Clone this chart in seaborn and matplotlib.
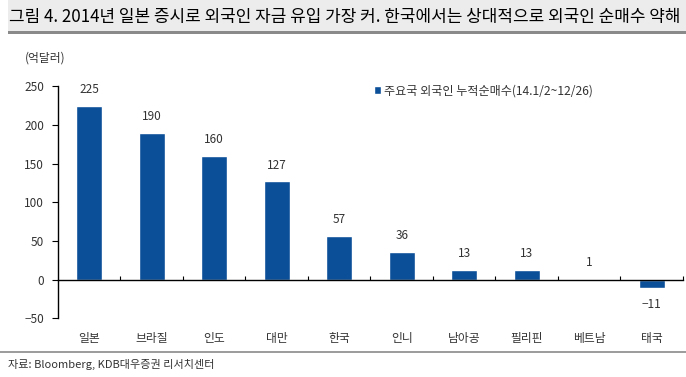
import matplotlib
matplotlib.use('Agg')
import matplotlib.pyplot as plt
import seaborn as sns
from matplotlib.patches import Rectangle
from matplotlib.lines import Line2D
from matplotlib.ticker import MultipleLocator

# data
countries = ['일본', '브라질', '인도', '대만', '한국', '인니', '남아공', '필리핀', '베트남', '태국']
net_buy = [225, 190, 160, 127, 57, 36, 13, 13, 1, -11]
series_name = '주요국 외국인 누적순매수(14.1/2~12/26)'
title = '그림 4. 2014년 일본 증시로 외국인 자금 유입 가장 커. 한국에서는 상대적으로 외국인 순매수 약해'
unit = '(억달러)'
source = '자료: Bloomberg, KDB대우증권 리서치센터'

sns.set_style('white')
plt.rcParams['font.family'] = ['Noto Sans CJK KR', 'DejaVu Sans']

bar_color = '#0B4F98'
txt_color = '#333333'

fig = plt.figure(figsize=(6.86, 3.77), dpi=100)
ax = fig.add_axes([0.0845, 0.1557, 0.9111, 0.6153])

sns.barplot(x=countries, y=net_buy, color=bar_color, saturation=1, width=0.42,
            ax=ax, label=series_name)

ax.set_ylim(-50, 250)
ax.set_xlim(-0.5, len(countries) - 0.5)
ax.yaxis.set_major_locator(MultipleLocator(50))
ax.set_xlabel('')
ax.set_ylabel('')

# axes styling: bottom spine at zero
for s in ['top', 'right']:
    ax.spines[s].set_visible(False)
ax.spines['bottom'].set_position(('data', 0))
for s in ['left', 'bottom']:
    ax.spines[s].set_color('black')
    ax.spines[s].set_linewidth(1.0)

ax.tick_params(axis='y', direction='out', length=4, width=0.8, color='black',
               labelsize=8.5, labelcolor=txt_color, pad=6, left=True)
ax.tick_params(axis='x', which='major', length=0, labelsize=8.5,
               labelcolor=txt_color, pad=38)
ax.set_xticks([i + 0.5 for i in range(len(countries))], minor=True)
ax.tick_params(axis='x', which='minor', direction='in', length=3, width=0.8,
               color='black', bottom=True)

labels = [str(v).replace('-', '\u2212') for v in net_buy]
ax.bar_label(ax.containers[0], labels=labels, padding=7, fontsize=8.5, color=txt_color)

leg = ax.legend(loc='upper left', bbox_to_anchor=(0.498, 1.03), frameon=False,
                fontsize=8.7, handlelength=0.6, handleheight=0.6, handletextpad=0.2,
                borderaxespad=0)
for t in leg.get_texts():
    t.set_color(txt_color)

# header band
fig.patches.append(Rectangle((8 / 686, 1 - 31 / 377), 1 - 8 / 686, 31 / 377,
                             transform=fig.transFigure, facecolor='#ececec',
                             edgecolor='none', zorder=0))
fig.patches.append(Rectangle((8 / 686, 1 - 34 / 377), 1 - 8 / 686, 3 / 377,
                             transform=fig.transFigure, facecolor='#8a8a8a',
                             edgecolor='none', zorder=0))
fig.text(9 / 686, 1 - 17 / 377, title, fontsize=12.2, color='black', va='center', ha='left')

fig.text(25 / 686, 1 - 58 / 377, unit, fontsize=8.5, color=txt_color, va='center', ha='left')

# footer
fig.lines.append(Line2D([0, 1], [1 - 352 / 377, 1 - 352 / 377], transform=fig.transFigure,
                        color='#8a8a8a', linewidth=1.2))
fig.text(8 / 686, 1 - 364 / 377, source, fontsize=8, color=txt_color, va='center', ha='left')

fig.savefig('out.png', dpi=100)
